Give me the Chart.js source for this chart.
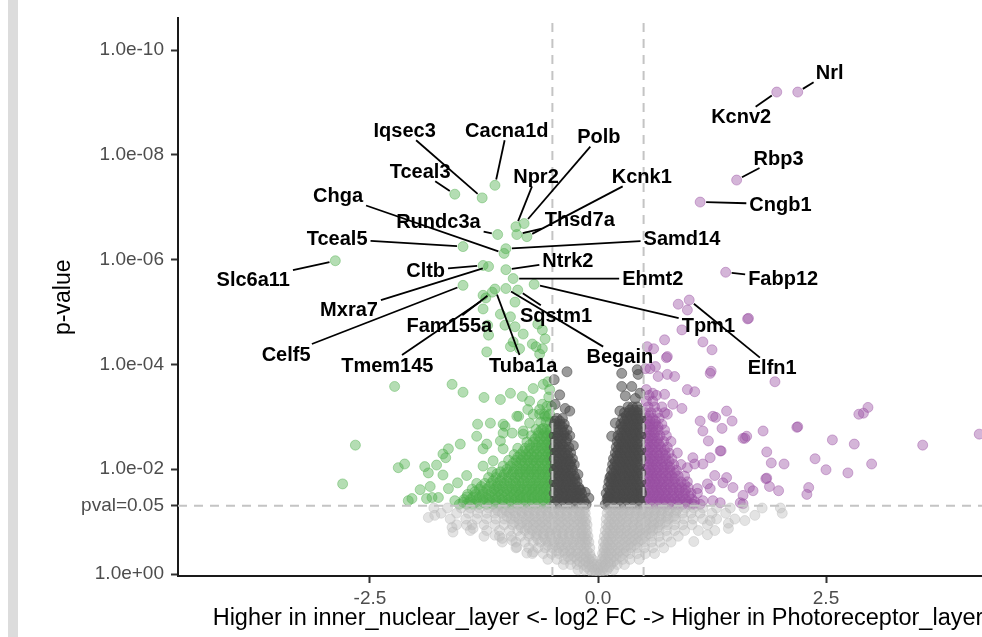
<!DOCTYPE html>
<html lang="en">
<head>
<meta charset="UTF-8">
<title>Volcano plot</title>
<script src="https://cdn.jsdelivr.net/npm/chart.js"></script>
<style>
  html, body { margin: 0; padding: 0; background: #fff; overflow: hidden; }
  #wrap { position: absolute; left: 0; top: 0; width: 1040px; height: 637px; }
  #strip { position: absolute; left: 8px; top: 0; width: 10px; height: 637px; background: #dcdcdc; }
</style>
</head>
<body>
<div id="wrap"><canvas id="volcano"></canvas></div>
<div id="strip"></div>
<script>
// axis ticks
var xTickVals = [-2.5, 0, 2.5];
var xTickLabels = ['-2.5', '0.0', '2.5'];
var yTickVals = [0, 1.30103, 2, 4, 6, 8, 10];   // -log10(p)
var yTickLabels = ['1.0e+00', 'pval=0.05', '1.0e-02', '1.0e-04', '1.0e-06', '1.0e-08', '1.0e-10'];
var fcCut = 0.5;
var pCut = 1.30103;

// labelled genes: log2 FC, -log10 p, and where the label text sits
var geneNames = ['Nrl', 'Kcnv2', 'Rbp3', 'Cngb1', 'Fabp12', 'Elfn1', 'Tpm1', 'Slc6a11', 'Celf5', 'Cltb',
  'Mxra7', 'Tmem145', 'Fam155a', 'Tuba1a', 'Begain', 'Sqstm1', 'Ehmt2', 'Ntrk2', 'Samd14', 'Chga',
  'Tceal5', 'Rundc3a', 'Tceal3', 'Iqsec3', 'Cacna1d', 'Npr2', 'Polb', 'Kcnk1', 'Thsd7a'];
var geneFC = [2.19, 1.96, 1.52, 1.12, 1.40, 1.00, -0.70, -2.88, -1.48, -1.26,
  -1.20, -1.23, -1.16, -1.13, -1.01, -0.88, -0.93, -1.01, -1.01, -1.03,
  -1.48, -1.10, -1.57, -1.27, -1.13, -0.90, -0.81, -0.78, -0.89];
var geneP = [9.20, 9.20, 7.52, 7.10, 5.76, 5.23, 5.53, 5.98, 5.51, 5.89,
  5.87, 5.27, 5.38, 5.44, 5.45, 5.42, 5.64, 5.81, 6.21, 6.12,
  6.25, 6.48, 7.25, 7.18, 7.42, 6.63, 6.69, 6.44, 6.48];
var labelFC = [2.54, 1.57, 1.98, 2.00, 2.03, 1.91, 1.21, -3.78, -3.42, -1.89,
  -2.73, -2.31, -1.63, -0.82, 0.24, -0.46, 0.60, -0.33, 0.92, -2.85,
  -2.86, -1.75, -1.95, -2.12, -1.00, -0.68, 0.01, 0.48, -0.20];
var labelP = [9.58, 8.73, 7.94, 7.06, 5.64, 3.94, 4.75, 5.63, 4.20, 5.80,
  5.04, 3.99, 4.75, 3.99, 4.15, 4.94, 5.64, 5.98, 6.40, 7.22,
  6.40, 6.72, 7.69, 8.47, 8.47, 7.59, 8.35, 7.59, 6.76];

// dense parts read row by row: [-log10 p, [log2 FC, ...]]
var greyRows = [
  [1.26, [-1.80, -1.65, -1.50, -1.40, -1.30, -1.20, -1.12, -1.04, -0.96, -0.88, -0.81, -0.74, -0.67, -0.60, -0.53, -0.46, -0.39, -0.32, -0.25, -0.19, -0.14,
          0.11, 0.17, 0.24, 0.31, 0.38, 0.45, 0.52, 0.59, 0.66, 0.73, 0.80, 0.88, 0.96, 1.05, 1.15, 1.30, 1.45, 1.60, 1.80, 2.00]],
  [1.21, [-1.10, -1.01, -0.93, -0.85, -0.78, -0.71, -0.64, -0.57, -0.50, -0.43, -0.36, -0.29, -0.22, -0.16,
          0.14, 0.20, 0.27, 0.34, 0.41, 0.48, 0.55, 0.62, 0.69, 0.77, 0.86]],
  [1.16, [-1.72, -1.55, -1.42, -1.32, -1.22, -1.13, -1.05, -0.97, -0.90, -0.83, -0.76, -0.69, -0.62, -0.55, -0.48, -0.41, -0.34, -0.27, -0.20, -0.14,
          0.10, 0.16, 0.22, 0.28, 0.35, 0.42, 0.49, 0.56, 0.63, 0.70, 0.77, 0.85, 0.93, 1.02, 1.12, 1.25, 1.40]],
  [1.10, [-1.00, -0.91, -0.83, -0.76, -0.69, -0.62, -0.55, -0.48, -0.41, -0.34, -0.27, -0.20, -0.15,
          0.13, 0.19, 0.25, 0.32, 0.39, 0.46, 0.53, 0.60, 0.67, 0.75, 0.83]],
  [1.05, [-1.62, -1.45, -1.33, -1.22, -1.12, -1.03, -0.95, -0.87, -0.79, -0.72, -0.65, -0.58, -0.51, -0.44, -0.37, -0.30, -0.23, -0.17, -0.13,
          0.09, 0.15, 0.21, 0.27, 0.34, 0.41, 0.48, 0.55, 0.62, 0.69, 0.77, 0.85, 0.94, 1.04, 1.15, 1.30, 1.50]],
  [0.99, [-0.92, -0.83, -0.75, -0.68, -0.61, -0.54, -0.47, -0.40, -0.33, -0.26, -0.19, -0.14,
          0.12, 0.18, 0.24, 0.31, 0.38, 0.45, 0.52, 0.59, 0.66, 0.74]],
  [0.94, [-1.55, -1.38, -1.25, -1.13, -1.03, -0.94, -0.86, -0.78, -0.71, -0.64, -0.57, -0.50, -0.43, -0.36, -0.29, -0.22, -0.17, -0.12,
          0.09, 0.14, 0.20, 0.26, 0.33, 0.40, 0.47, 0.54, 0.61, 0.68, 0.76, 0.84, 0.93, 1.03, 1.20]],
  [0.88, [-0.84, -0.76, -0.68, -0.61, -0.54, -0.47, -0.40, -0.33, -0.26, -0.19, -0.14,
          0.11, 0.17, 0.23, 0.30, 0.37, 0.44, 0.51, 0.58, 0.65]],
  [0.83, [-1.40, -1.22, -1.08, -0.97, -0.88, -0.80, -0.72, -0.65, -0.58, -0.51, -0.44, -0.37, -0.30, -0.23, -0.17, -0.12,
          0.08, 0.13, 0.19, 0.25, 0.32, 0.39, 0.46, 0.53, 0.60, 0.67, 0.75, 0.84, 0.95, 1.10]],
  [0.77, [-0.75, -0.67, -0.60, -0.53, -0.46, -0.39, -0.32, -0.25, -0.18, -0.13,
          0.10, 0.16, 0.22, 0.28, 0.35, 0.42, 0.49, 0.56]],
  [0.72, [-1.25, -1.08, -0.95, -0.85, -0.76, -0.68, -0.60, -0.53, -0.46, -0.39, -0.32, -0.25, -0.19, -0.15, -0.11,
          0.07, 0.12, 0.17, 0.24, 0.31, 0.38, 0.45, 0.52, 0.59, 0.67, 0.76, 0.88]],
  [0.66, [-0.66, -0.58, -0.51, -0.44, -0.37, -0.30, -0.23, -0.17, -0.12,
          0.09, 0.14, 0.20, 0.27, 0.34, 0.41, 0.48]],
  [0.61, [-1.05, -0.90, -0.80, -0.71, -0.63, -0.55, -0.48, -0.41, -0.34, -0.27, -0.20, -0.14, -0.10,
          0.06, 0.11, 0.16, 0.23, 0.30, 0.37, 0.44, 0.51, 0.59, 0.68, 0.80]],
  [0.55, [-0.55, -0.47, -0.40, -0.33, -0.26, -0.19, -0.13,
          0.08, 0.13, 0.19, 0.26, 0.33, 0.40]],
  [0.50, [-0.90, -0.76, -0.66, -0.58, -0.50, -0.43, -0.36, -0.29, -0.22, -0.15, -0.09,
          0.06, 0.10, 0.15, 0.22, 0.29, 0.36, 0.43, 0.51, 0.60, 0.72]],
  [0.44, [-0.45, -0.38, -0.31, -0.24, -0.17, -0.12,
          0.07, 0.12, 0.18, 0.24, 0.31]],
  [0.39, [-0.72, -0.60, -0.51, -0.43, -0.36, -0.29, -0.22, -0.15, -0.09,
          0.05, 0.09, 0.14, 0.21, 0.28, 0.35, 0.43, 0.52, 0.62]],
  [0.33, [-0.33, -0.26, -0.19, -0.13, -0.08, 0.06, 0.11, 0.17, 0.24]],
  [0.28, [-0.55, -0.45, -0.37, -0.30, -0.23, -0.16, -0.10, -0.06, 0.04, 0.08, 0.14, 0.20, 0.27, 0.35, 0.45]],
  [0.23, [-0.20, -0.13, -0.07, 0.05, 0.11, 0.17]],
  [0.18, [-0.38, -0.30, -0.23, -0.16, -0.10, -0.05, -0.01, 0.03, 0.08, 0.14, 0.21, 0.29]],
  [0.13, [-0.12, -0.06, 0.00, 0.06, 0.12]],
  [0.08, [-0.22, -0.15, -0.09, -0.04, 0.00, 0.05, 0.10, 0.17]],
  [0.02, [-0.06, -0.02, 0.02, 0.06]]
];
var greyExtra = [[-1.86, 1.08], [-1.79, 1.12], [-1.60, 0.89], [-1.59, 0.80], [-1.44, 0.93], [-1.37, 0.87], [-1.13, 0.74],
  [-1.05, 0.68], [-0.94, 0.64], [-0.89, 0.51], [-0.78, 0.40], [-0.71, 0.42],
  [1.23, 1.02], [1.43, 0.97], [1.61, 1.02], [1.72, 1.12], [2.02, 1.16], [1.28, 0.83], [1.43, 0.87], [1.20, 0.75], [1.05, 0.62]];

// p < 0.05 but |log2 FC| < 0.5
var darkRows = [
  [1.33, [-0.48, -0.43, -0.38, -0.33, -0.28, -0.23, -0.18, -0.13, 0.08, 0.13, 0.18, 0.23, 0.28, 0.33, 0.38, 0.43, 0.47]],
  [1.38, [-0.45, -0.40, -0.35, -0.30, -0.25, -0.20, -0.15, 0.11, 0.16, 0.21, 0.26, 0.31, 0.36, 0.41, 0.46]],
  [1.43, [-0.47, -0.42, -0.37, -0.32, -0.27, -0.22, -0.17, 0.10, 0.15, 0.20, 0.25, 0.30, 0.35, 0.40, 0.45]],
  [1.49, [-0.45, -0.40, -0.35, -0.30, -0.25, -0.20, 0.12, 0.17, 0.22, 0.27, 0.32, 0.37, 0.42, 0.46]],
  [1.54, [-0.48, -0.43, -0.38, -0.33, -0.28, -0.23, -0.18, 0.09, 0.14, 0.19, 0.24, 0.29, 0.34, 0.39, 0.44, 0.48]],
  [1.60, [-0.45, -0.40, -0.35, -0.30, -0.24, -0.19, 0.13, 0.18, 0.23, 0.28, 0.33, 0.38, 0.43, 0.47]],
  [1.65, [-0.47, -0.42, -0.37, -0.32, -0.27, -0.21, 0.11, 0.16, 0.21, 0.26, 0.31, 0.36, 0.41, 0.46]],
  [1.71, [-0.45, -0.40, -0.35, -0.30, -0.25, 0.14, 0.19, 0.24, 0.29, 0.34, 0.39, 0.44]],
  [1.76, [-0.48, -0.43, -0.38, -0.33, -0.28, -0.23, 0.12, 0.17, 0.22, 0.27, 0.32, 0.37, 0.42, 0.47]],
  [1.82, [-0.45, -0.40, -0.35, -0.30, -0.25, 0.15, 0.20, 0.25, 0.30, 0.35, 0.40, 0.45]],
  [1.87, [-0.47, -0.42, -0.37, -0.32, -0.26, 0.14, 0.19, 0.24, 0.29, 0.34, 0.39, 0.44]],
  [1.93, [-0.45, -0.40, -0.35, -0.30, 0.17, 0.22, 0.27, 0.32, 0.37, 0.42, 0.47]],
  [1.98, [-0.48, -0.43, -0.38, -0.33, -0.28, 0.15, 0.20, 0.25, 0.30, 0.35, 0.40, 0.45]],
  [2.04, [-0.45, -0.40, -0.35, -0.29, 0.18, 0.23, 0.28, 0.33, 0.38, 0.43]],
  [2.09, [-0.47, -0.42, -0.37, -0.31, -0.26, 0.16, 0.21, 0.26, 0.31, 0.36, 0.41, 0.46]],
  [2.15, [-0.45, -0.40, -0.35, -0.30, 0.19, 0.24, 0.29, 0.34, 0.39, 0.44]],
  [2.20, [-0.48, -0.43, -0.38, -0.33, -0.28, 0.17, 0.22, 0.27, 0.32, 0.37, 0.42, 0.47]],
  [2.26, [-0.45, -0.39, -0.33, 0.21, 0.26, 0.31, 0.36, 0.41, 0.46]],
  [2.31, [-0.47, -0.42, -0.36, -0.30, 0.19, 0.24, 0.29, 0.34, 0.39, 0.44]],
  [2.37, [-0.45, -0.40, -0.34, 0.22, 0.27, 0.32, 0.37, 0.42, 0.47]],
  [2.42, [-0.48, -0.43, -0.38, -0.32, 0.20, 0.25, 0.30, 0.35, 0.40, 0.45]],
  [2.48, [-0.45, -0.39, 0.23, 0.28, 0.33, 0.38, 0.43]],
  [2.53, [-0.47, -0.41, -0.35, 0.21, 0.26, 0.31, 0.36, 0.41, 0.46]],
  [2.59, [-0.45, -0.40, -0.34, 0.24, 0.29, 0.34, 0.39, 0.44]],
  [2.64, [-0.48, -0.43, -0.37, -0.31, 0.22, 0.27, 0.32, 0.37, 0.42, 0.47]],
  [2.70, [-0.44, -0.37, 0.26, 0.31, 0.36, 0.41, 0.46]],
  [2.75, [-0.46, -0.40, -0.34, 0.24, 0.29, 0.34, 0.39, 0.44]],
  [2.81, [-0.45, -0.39, 0.27, 0.32, 0.37, 0.42, 0.47]],
  [2.86, [-0.48, -0.42, -0.37, 0.25, 0.30, 0.35, 0.40, 0.45]],
  [2.92, [-0.47, -0.42, 0.29, 0.34, 0.39, 0.44]],
  [2.97, [-0.45, -0.39, 0.27, 0.32, 0.37, 0.42, 0.47]],
  [3.02, [0.31, 0.36, 0.41, 0.46]],
  [3.08, [0.29, 0.34, 0.39, 0.44]],
  [3.13, [0.35, 0.40, 0.45]],
  [3.19, [0.33, 0.38, 0.43]]
];
var darkExtra = [[-0.47, 3.24], [-0.36, 3.16], [-0.31, 3.11], [-0.34, 3.86], [-0.48, 3.71], [-0.42, 3.42], [-0.14, 1.56],
  [-0.10, 1.45], [-0.20, 1.60], [-0.27, 2.45], [-0.22, 1.90],
  [0.26, 3.83], [0.43, 3.90], [0.44, 3.81], [0.26, 3.58], [0.37, 3.58], [0.46, 3.45], [0.24, 3.11], [0.19, 2.88],
  [0.15, 2.63], [0.41, 3.35], [0.30, 3.40], [0.13, 1.84], [0.11, 1.46]];

// higher in inner_nuclear_layer
var greenRows = [
  [1.33, [-1.52, -1.44, -1.37, -1.30, -1.22, -1.15, -1.08, -1.01, -0.95, -0.88, -0.82, -0.75, -0.69, -0.63, -0.57, -0.52]],
  [1.37, [-1.48, -1.41, -1.34, -1.26, -1.19, -1.12, -1.05, -0.98, -0.92, -0.85, -0.79, -0.72, -0.66, -0.60, -0.54]],
  [1.42, [-1.47, -1.40, -1.33, -1.26, -1.19, -1.12, -1.05, -0.98, -0.91, -0.85, -0.79, -0.72, -0.66, -0.60, -0.54]],
  [1.47, [-1.44, -1.37, -1.30, -1.23, -1.16, -1.09, -1.02, -0.95, -0.88, -0.82, -0.76, -0.70, -0.63, -0.57, -0.52]],
  [1.52, [-1.43, -1.34, -1.27, -1.20, -1.13, -1.06, -0.99, -0.92, -0.86, -0.79, -0.73, -0.67, -0.61, -0.55]],
  [1.57, [-1.35, -1.26, -1.17, -1.10, -1.03, -0.96, -0.90, -0.84, -0.78, -0.72, -0.66, -0.60, -0.54]],
  [1.62, [-1.38, -1.30, -1.22, -1.14, -1.08, -1.00, -0.94, -0.87, -0.81, -0.75, -0.69, -0.63, -0.57, -0.52]],
  [1.67, [-1.28, -1.19, -1.11, -1.05, -0.98, -0.91, -0.85, -0.78, -0.72, -0.66, -0.60, -0.55]],
  [1.73, [-1.33, -1.24, -1.17, -1.10, -1.03, -0.96, -0.90, -0.83, -0.77, -0.71, -0.65, -0.59, -0.53]],
  [1.78, [-1.15, -1.07, -1.00, -0.93, -0.87, -0.81, -0.74, -0.68, -0.62, -0.56, -0.51]],
  [1.84, [-1.20, -1.12, -1.05, -0.98, -0.91, -0.85, -0.79, -0.73, -0.67, -0.61, -0.55]],
  [1.90, [-1.03, -0.95, -0.88, -0.82, -0.76, -0.70, -0.64, -0.58, -0.53]],
  [1.95, [-1.16, -1.07, -0.99, -0.93, -0.86, -0.80, -0.74, -0.68, -0.62, -0.56, -0.51]],
  [2.00, [-1.00, -0.92, -0.85, -0.79, -0.73, -0.67, -0.61, -0.55]],
  [2.06, [-1.04, -0.96, -0.89, -0.82, -0.76, -0.70, -0.64, -0.58, -0.52]],
  [2.12, [-0.93, -0.86, -0.80, -0.74, -0.68, -0.62, -0.56, -0.51]],
  [2.17, [-0.98, -0.90, -0.84, -0.77, -0.71, -0.65, -0.59, -0.53]],
  [2.23, [-0.88, -0.82, -0.76, -0.70, -0.64, -0.58, -0.53]],
  [2.28, [-0.92, -0.85, -0.79, -0.73, -0.67, -0.61, -0.55, -0.51]],
  [2.34, [-0.82, -0.76, -0.70, -0.64, -0.58, -0.53]],
  [2.40, [-0.88, -0.80, -0.74, -0.68, -0.62, -0.56, -0.52]],
  [2.46, [-0.75, -0.68, -0.62, -0.57, -0.52]],
  [2.52, [-0.78, -0.71, -0.65, -0.59, -0.54]],
  [2.58, [-0.69, -0.63, -0.57, -0.52]],
  [2.64, [-0.73, -0.66, -0.60, -0.55, -0.51]],
  [2.70, [-0.65, -0.58, -0.53]],
  [2.76, [-0.68, -0.62, -0.56, -0.52]],
  [2.90, [-0.63, -0.57, -0.52]],
  [3.05, [-0.59, -0.53]],
  [3.20, [-0.56, -0.51]],
  [3.38, [-0.54]]
];
var greenExtra = [[-1.26, 5.32], [-1.26, 5.06], [-1.07, 4.96], [-0.96, 4.91], [-0.91, 5.19], [-1.21, 4.75], [-1.02, 4.75],
  [-0.82, 4.58], [-0.66, 4.77], [-0.61, 4.66], [-0.93, 4.43], [-0.72, 4.39], [-0.68, 4.34], [-0.61, 4.30], [-0.86, 4.30],
  [-0.96, 4.34], [-0.58, 4.49], [-0.64, 4.20], [-1.20, 4.56], [-0.91, 4.72], [-1.22, 4.24],
  [-2.23, 3.58], [-1.60, 3.62], [-1.48, 3.47], [-1.25, 3.37], [-1.07, 3.33], [-0.96, 3.45], [-0.83, 3.39], [-0.71, 3.54],
  [-0.60, 3.62], [-0.55, 3.67], [-0.75, 3.30], [-0.61, 3.24], [-0.53, 3.52], [-0.77, 3.14], [-0.64, 3.05], [-0.55, 3.01],
  [-0.87, 3.01], [-1.04, 2.86], [-1.18, 2.88], [-1.33, 2.63], [-1.22, 2.48], [-0.94, 2.69], [-1.07, 2.54], [-1.04, 2.39],
  [-0.82, 2.73], [-0.75, 2.88], [-0.60, 2.78],
  [-2.66, 2.46], [-2.80, 1.72], [-2.19, 2.03], [-2.12, 2.10], [-1.90, 2.05], [-1.86, 1.93], [-1.77, 2.08], [-1.70, 1.89],
  [-1.70, 2.29], [-1.67, 2.22], [-1.64, 2.39], [-1.51, 2.48], [-1.32, 2.86], [-1.26, 2.39], [-1.95, 1.61], [-1.84, 1.67],
  [-2.08, 1.40], [-2.04, 1.44], [-1.88, 1.44], [-1.82, 1.46], [-1.75, 1.46], [-1.64, 1.63], [-1.54, 1.74], [-1.44, 1.88],
  [-1.57, 1.40], [-1.26, 2.06], [-1.15, 2.16], [-1.11, 1.91], [-1.04, 2.69], [-1.02, 2.82], [-0.89, 3.01], [-0.82, 2.67],
  [-0.71, 3.05], [-0.64, 3.14], [-0.58, 3.01]];

// higher in Photoreceptor_layer
var purpleRows = [
  [1.33, [0.52, 0.57, 0.62, 0.67, 0.72, 0.77, 0.82, 0.87, 0.93, 0.99, 1.05, 1.12]],
  [1.38, [0.55, 0.60, 0.65, 0.70, 0.75, 0.80, 0.86, 0.92, 0.98, 1.06]],
  [1.43, [0.53, 0.58, 0.63, 0.68, 0.73, 0.78, 0.84, 0.90, 0.96, 1.03]],
  [1.49, [0.55, 0.60, 0.65, 0.70, 0.75, 0.81, 0.87, 0.93, 1.00]],
  [1.54, [0.52, 0.57, 0.62, 0.67, 0.72, 0.77, 0.83, 0.89, 0.95, 1.02, 1.09]],
  [1.60, [0.55, 0.60, 0.65, 0.70, 0.76, 0.82, 0.89, 0.96]],
  [1.65, [0.54, 0.59, 0.64, 0.69, 0.74, 0.80, 0.86, 0.92, 0.99]],
  [1.71, [0.55, 0.60, 0.65, 0.70, 0.76, 0.82, 0.88, 0.95]],
  [1.76, [0.52, 0.57, 0.62, 0.67, 0.72, 0.78, 0.84, 0.91, 0.98]],
  [1.82, [0.55, 0.60, 0.65, 0.71, 0.77, 0.84]],
  [1.87, [0.54, 0.59, 0.64, 0.69, 0.75, 0.81, 0.88, 0.95]],
  [1.93, [0.55, 0.60, 0.65, 0.71, 0.77, 0.84]],
  [1.98, [0.52, 0.57, 0.62, 0.67, 0.73, 0.79, 0.86]],
  [2.04, [0.55, 0.60, 0.66, 0.72, 0.79]],
  [2.09, [0.54, 0.59, 0.64, 0.70, 0.76, 0.83, 0.91]],
  [2.15, [0.55, 0.60, 0.65, 0.71, 0.78]],
  [2.20, [0.52, 0.57, 0.62, 0.68, 0.74, 0.81]],
  [2.26, [0.55, 0.61, 0.67, 0.74]],
  [2.31, [0.54, 0.59, 0.65, 0.71, 0.78, 0.87]],
  [2.37, [0.55, 0.60, 0.66, 0.73]],
  [2.42, [0.52, 0.57, 0.63, 0.69, 0.76]],
  [2.48, [0.55, 0.61, 0.67]],
  [2.53, [0.54, 0.59, 0.65, 0.72, 0.80]],
  [2.59, [0.55, 0.60, 0.66]],
  [2.64, [0.52, 0.57, 0.62, 0.68, 0.75]],
  [2.70, [0.56, 0.62]],
  [2.75, [0.54, 0.60, 0.66, 0.73]],
  [2.81, [0.55, 0.60, 0.66]],
  [2.86, [0.52, 0.57, 0.63, 0.70]],
  [2.92, [0.57, 0.63]],
  [2.97, [0.54, 0.60, 0.67]],
  [3.02, [0.56]],
  [3.08, [0.52, 0.58, 0.65, 0.73]],
  [3.19, [0.55, 0.62, 0.70]],
  [3.30, [0.53, 0.60]],
  [3.41, [0.56, 0.64]],
  [3.52, [0.53]]
];
var purpleExtra = [[0.57, 3.92], [0.66, 3.77], [0.76, 3.81], [0.84, 3.77], [0.60, 3.45], [0.73, 3.43], [0.98, 3.52],
  [1.06, 3.48], [1.23, 3.83], [1.24, 3.87], [0.82, 3.24], [0.92, 3.16], [0.76, 3.05], [1.26, 3.01], [1.36, 2.78],
  [1.41, 3.11], [1.47, 2.92], [1.15, 2.73], [1.59, 2.59], [1.34, 2.35], [0.73, 4.47], [0.75, 4.13], [0.76, 4.15],
  [0.61, 4.30], [0.54, 4.34], [1.15, 4.43], [1.25, 4.28], [0.92, 4.66], [1.94, 3.67], [0.52, 3.92], [0.63, 3.96],
  [0.88, 5.15], [0.98, 5.04], [1.64, 4.87], [1.65, 4.88], [1.29, 2.99], [1.61, 2.59], [1.63, 2.63], [1.81, 2.73],
  [2.18, 2.80], [2.19, 2.81], [2.57, 2.56], [2.81, 2.48], [2.86, 3.05], [2.91, 3.07], [2.96, 3.18], [3.56, 2.46],
  [4.18, 2.67], [1.85, 2.33], [1.90, 2.12], [2.04, 2.10], [2.38, 2.20], [2.50, 1.99], [2.74, 1.93], [3.00, 2.10],
  [1.84, 1.82], [1.85, 1.83], [1.88, 1.67], [1.98, 1.59], [2.31, 1.65], [2.29, 1.52], [1.66, 1.65], [1.70, 1.59],
  [1.59, 1.50], [1.59, 1.34], [1.35, 2.35], [1.23, 2.22], [1.15, 2.10], [1.28, 1.88], [1.41, 1.84], [1.37, 1.74],
  [1.48, 1.65], [1.20, 1.72], [1.23, 1.63], [1.09, 1.63], [1.15, 1.40], [1.26, 1.40], [1.34, 1.36], [1.56, 1.36],
  [1.04, 2.22], [0.98, 2.03], [1.06, 2.10], [1.03, 1.34], [1.12, 2.92], [1.21, 2.54]];

function expand(rows, extra) {
  var pts = [];
  rows.forEach(function (r) {
    r[1].forEach(function (fc) { pts.push({ x: fc, y: r[0] }); });
  });
  extra.forEach(function (p) { pts.push({ x: p[0], y: p[1] }); });
  return pts;
}

var greyPts = expand(greyRows, greyExtra);
var darkPts = expand(darkRows, darkExtra);
var greenPts = expand(greenRows, greenExtra);
var purplePts = expand(purpleRows, purpleExtra);
geneNames.forEach(function (n, i) {
  (geneFC[i] < 0 ? greenPts : purplePts).push({ x: geneFC[i], y: geneP[i] });
});

var fontFamily = '"Liberation Sans", Arial, Helvetica, sans-serif';

function pointSet(data, colour) {
  return {
    data: data,
    backgroundColor: colour,
    borderColor: colour,
    borderWidth: 1,
    pointRadius: 5,
    pointHoverRadius: 5
  };
}

// dashed cut-off lines and the gene labels with their leader lines
var annotate = {
  id: 'annotate',
  afterDatasetsDraw: function (chart) {
    var ctx = chart.ctx, xs = chart.scales.x, ys = chart.scales.y, a = chart.chartArea;
    ctx.save();
    ctx.strokeStyle = '#c4c4c4';
    ctx.lineWidth = 2;
    ctx.setLineDash([9, 7]);
    [-fcCut, fcCut].forEach(function (v) {
      var px = xs.getPixelForValue(v);
      ctx.beginPath();
      ctx.moveTo(px, a.bottom);
      ctx.lineTo(px, a.top);
      ctx.stroke();
    });
    var hy = ys.getPixelForValue(pCut);
    ctx.beginPath();
    ctx.moveTo(a.left, hy);
    ctx.lineTo(a.right, hy);
    ctx.stroke();
    ctx.setLineDash([]);

    ctx.font = 'bold 20px ' + fontFamily;
    ctx.textAlign = 'center';
    ctx.textBaseline = 'middle';
    ctx.strokeStyle = '#000';
    ctx.fillStyle = '#000';
    ctx.lineWidth = 1.8;
    geneNames.forEach(function (name, i) {
      var px = xs.getPixelForValue(geneFC[i]), py = ys.getPixelForValue(geneP[i]);
      var lx = xs.getPixelForValue(labelFC[i]), ly = ys.getPixelForValue(labelP[i]);
      var hw = ctx.measureText(name).width / 2 + 3, hh = 10;
      var dx = px - lx, dy = py - ly;
      var t = Math.min(dx !== 0 ? hw / Math.abs(dx) : Infinity, dy !== 0 ? hh / Math.abs(dy) : Infinity);
      if (t < 1) {
        var ex = lx + dx * t, ey = ly + dy * t;
        var len = Math.hypot(px - ex, py - ey);
        if (len > 9) {
          var sx = px - (px - ex) / len * 6, sy = py - (py - ey) / len * 6;
          ctx.beginPath();
          ctx.moveTo(sx, sy);
          ctx.lineTo(ex, ey);
          ctx.stroke();
        }
      }
      ctx.fillText(name, lx, ly + 1);
    });
    ctx.restore();
  }
};

new Chart(document.getElementById('volcano'), {
  type: 'scatter',
  data: {
    datasets: [
      pointSet(greyPts, 'rgba(185,185,185,0.4)'),
      pointSet(darkPts, 'rgba(72,72,72,0.55)'),
      pointSet(greenPts, 'rgba(77,175,74,0.42)'),
      pointSet(purplePts, 'rgba(152,78,163,0.42)')
    ]
  },
  options: {
    responsive: true,
    maintainAspectRatio: false,
    animation: false,
    events: [],
    layout: { padding: { left: 0, right: 22, top: 14, bottom: 0 } },
    plugins: { legend: { display: false }, tooltip: { enabled: false } },
    scales: {
      x: {
        type: 'linear',
        min: -4.605,
        max: 4.605,
        afterBuildTicks: function (s) { s.ticks = xTickVals.map(function (v) { return { value: v }; }); },
        afterFit: function (s) { s.height = 61; },
        ticks: {
          autoSkip: false, maxRotation: 0, padding: 4, color: '#4d4d4d',
          font: { family: fontFamily, size: 19 },
          callback: function (v, i) { return xTickLabels[i]; }
        },
        grid: { drawOnChartArea: false, drawTicks: true, tickLength: 7, tickWidth: 2, tickColor: '#333' },
        border: { display: true, color: '#1a1a1a', width: 2 },
        title: {
          display: true,
          text: 'Higher in inner_nuclear_layer <- log2 FC -> Higher in Photoreceptor_layer',
          color: '#000', font: { family: fontFamily, size: 23.5 }, padding: { top: 0, bottom: 4 }
        }
      },
      y: {
        type: 'linear',
        min: -0.038,
        max: 10.606,
        afterBuildTicks: function (s) { s.ticks = yTickVals.map(function (v) { return { value: v }; }); },
        afterFit: function (s) { s.width = 178; },
        ticks: {
          autoSkip: false, padding: 7, color: '#4d4d4d',
          font: { family: fontFamily, size: 19 },
          callback: function (v, i) { return yTickLabels[i]; }
        },
        grid: { drawOnChartArea: false, drawTicks: true, tickLength: 7, tickWidth: 2, tickColor: '#333' },
        border: { display: true, color: '#1a1a1a', width: 2 },
        title: {
          display: true, text: 'p-value', color: '#000',
          font: { family: fontFamily, size: 23 }, padding: { top: 50, bottom: 0 }
        }
      }
    }
  },
  plugins: [annotate]
});
</script>
</body>
</html>
